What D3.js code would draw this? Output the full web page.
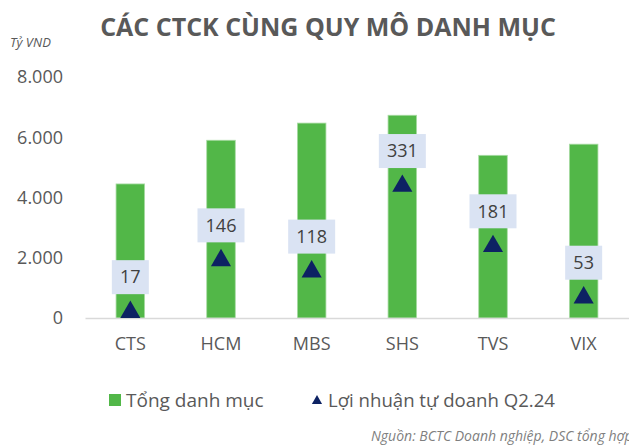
<!DOCTYPE html>
<html>
<head>
<meta charset="utf-8">
<script src="https://cdn.jsdelivr.net/npm/d3@7"></script>
<style>
  body { margin: 0; background: #fff; }
  svg { font-family: 'Open Sans', sans-serif; display: block; }
</style>
</head>
<body>
<div id="chart"></div>
<script>
let categories = ['CTS', 'HCM', 'MBS', 'SHS', 'TVS', 'VIX']
let portfolio = [4450, 5900, 6470, 6730, 5400, 5770]
let profit = [17, 146, 118, 331, 181, 53]
let yTicks = [0, 2000, 4000, 6000, 8000]

let margin = { top: 77, left: 85, right: 0, bottom: 127 }
let width = 629 - margin.left - margin.right
let height = 445 - margin.top - margin.bottom

let root = d3
  .select('#chart')
  .append('svg')
  .attr('width', 629)
  .attr('height', 445)

let svg = root
  .append('g')
  .attr('transform', `translate(${margin.left}, ${margin.top})`)

let xPositionScale = d3
  .scaleBand()
  .domain(categories)
  .range([0, width])
  .paddingInner(0.685)
  .paddingOuter(0.3425)

let yPositionScale = d3.scaleLinear().domain([0, 8000]).range([height, 0])
// secondary axis for profit (hidden)
let y2Scale = d3.scaleLinear().domain([0, 600]).range([height, 0])

let fmt = d => d3.format(',')(d).replace(/,/g, '.')

// title
root
  .append('text')
  .attr('x', 328)
  .attr('y', 36)
  .attr('text-anchor', 'middle')
  .attr('font-size', 25)
  .attr('font-weight', 'bold')
  .attr('fill', '#595959')
  .text('CÁC CTCK CÙNG QUY MÔ DANH MỤC')

root
  .append('text')
  .attr('x', 10)
  .attr('y', 47)
  .attr('font-size', 13)
  .attr('font-style', 'italic')
  .attr('fill', '#595959')
  .text('Tỷ VND')

// y axis labels
let yAxis = d3
  .axisLeft(yPositionScale)
  .tickValues(yTicks)
  .tickFormat(fmt)
  .tickSize(0)
  .tickPadding(22)
svg
  .append('g')
  .attr('class', 'axis y-axis')
  .call(yAxis)
  .call(g => g.select('.domain').remove())
  .selectAll('text')
  .attr('font-size', 18)
  .attr('font-family', 'Open Sans, sans-serif')
  .attr('fill', '#595959')

// bars
svg
  .selectAll('.bar')
  .data(categories)
  .enter()
  .append('rect')
  .attr('class', 'bar')
  .attr('x', d => xPositionScale(d))
  .attr('width', xPositionScale.bandwidth())
  .attr('y', (d, i) => yPositionScale(portfolio[i]))
  .attr('height', (d, i) => height - yPositionScale(portfolio[i]))
  .attr('fill', '#52b748')
  .attr('stroke', '#a9dba4')
  .attr('stroke-width', 0.8)

// x axis
let xAxis = d3.axisBottom(xPositionScale).tickSize(0).tickPadding(19)
svg
  .append('g')
  .attr('class', 'axis x-axis')
  .attr('transform', `translate(0, ${height})`)
  .call(xAxis)
  .call(g => g.select('.domain').attr('stroke', '#d9d9d9').attr('stroke-width', 1.5))
  .selectAll('text')
  .attr('font-size', 18)
  .attr('font-family', 'Open Sans, sans-serif')
  .attr('fill', '#595959')

// triangles
let tri = d3.symbol().type(d3.symbolTriangle).size(175)
svg
  .selectAll('.tri')
  .data(categories)
  .enter()
  .append('path')
  .attr('class', 'tri')
  .attr('d', tri)
  .attr('transform', (d, i) =>
    `translate(${xPositionScale(d) + xPositionScale.bandwidth() / 2}, ${y2Scale(profit[i]) + 1})`)
  .attr('fill', '#0d2263')

// labels
let labels = svg
  .selectAll('.lbl')
  .data(categories)
  .enter()
  .append('g')
  .attr('class', 'lbl')
  .attr('transform', (d, i) =>
    `translate(${xPositionScale(d) + xPositionScale.bandwidth() / 2}, ${y2Scale(profit[i]) - 34})`)

labels
  .append('rect')
  .attr('x', (d, i) => (String(profit[i]).length === 2 ? -18.5 : -23.5))
  .attr('width', (d, i) => (String(profit[i]).length === 2 ? 37 : 47))
  .attr('y', -17)
  .attr('height', 34)
  .attr('fill', '#dae3f3')

labels
  .append('text')
  .attr('text-anchor', 'middle')
  .attr('dy', '0.35em')
  .attr('font-size', 18)
  .attr('fill', '#404040')
  .text((d, i) => profit[i])

// legend
let legend = root.append('g').attr('transform', 'translate(0, 400)')
legend
  .append('rect')
  .attr('x', 109)
  .attr('y', -6)
  .attr('width', 12)
  .attr('height', 12)
  .attr('fill', '#52b748')
legend
  .append('text')
  .attr('x', 126)
  .attr('dy', '0.35em')
  .attr('font-size', 19)
  .attr('fill', '#595959')
  .text('Tổng danh mục')
legend
  .append('path')
  .attr('d', d3.symbol().type(d3.symbolTriangle).size(45))
  .attr('transform', 'translate(317, 1)')
  .attr('fill', '#0d2263')
legend
  .append('text')
  .attr('x', 328)
  .attr('dy', '0.35em')
  .attr('font-size', 18.6)
  .attr('fill', '#595959')
  .text('Lợi nhuận tự doanh Q2.24')

root
  .append('text')
  .attr('x', 371)
  .attr('y', 441)
  .attr('font-size', 14)
  .attr('font-style', 'italic')
  .attr('fill', '#7f7f7f')
  .text('Nguồn: BCTC Doanh nghiệp, DSC tổng hợp')
</script>
</body>
</html>
